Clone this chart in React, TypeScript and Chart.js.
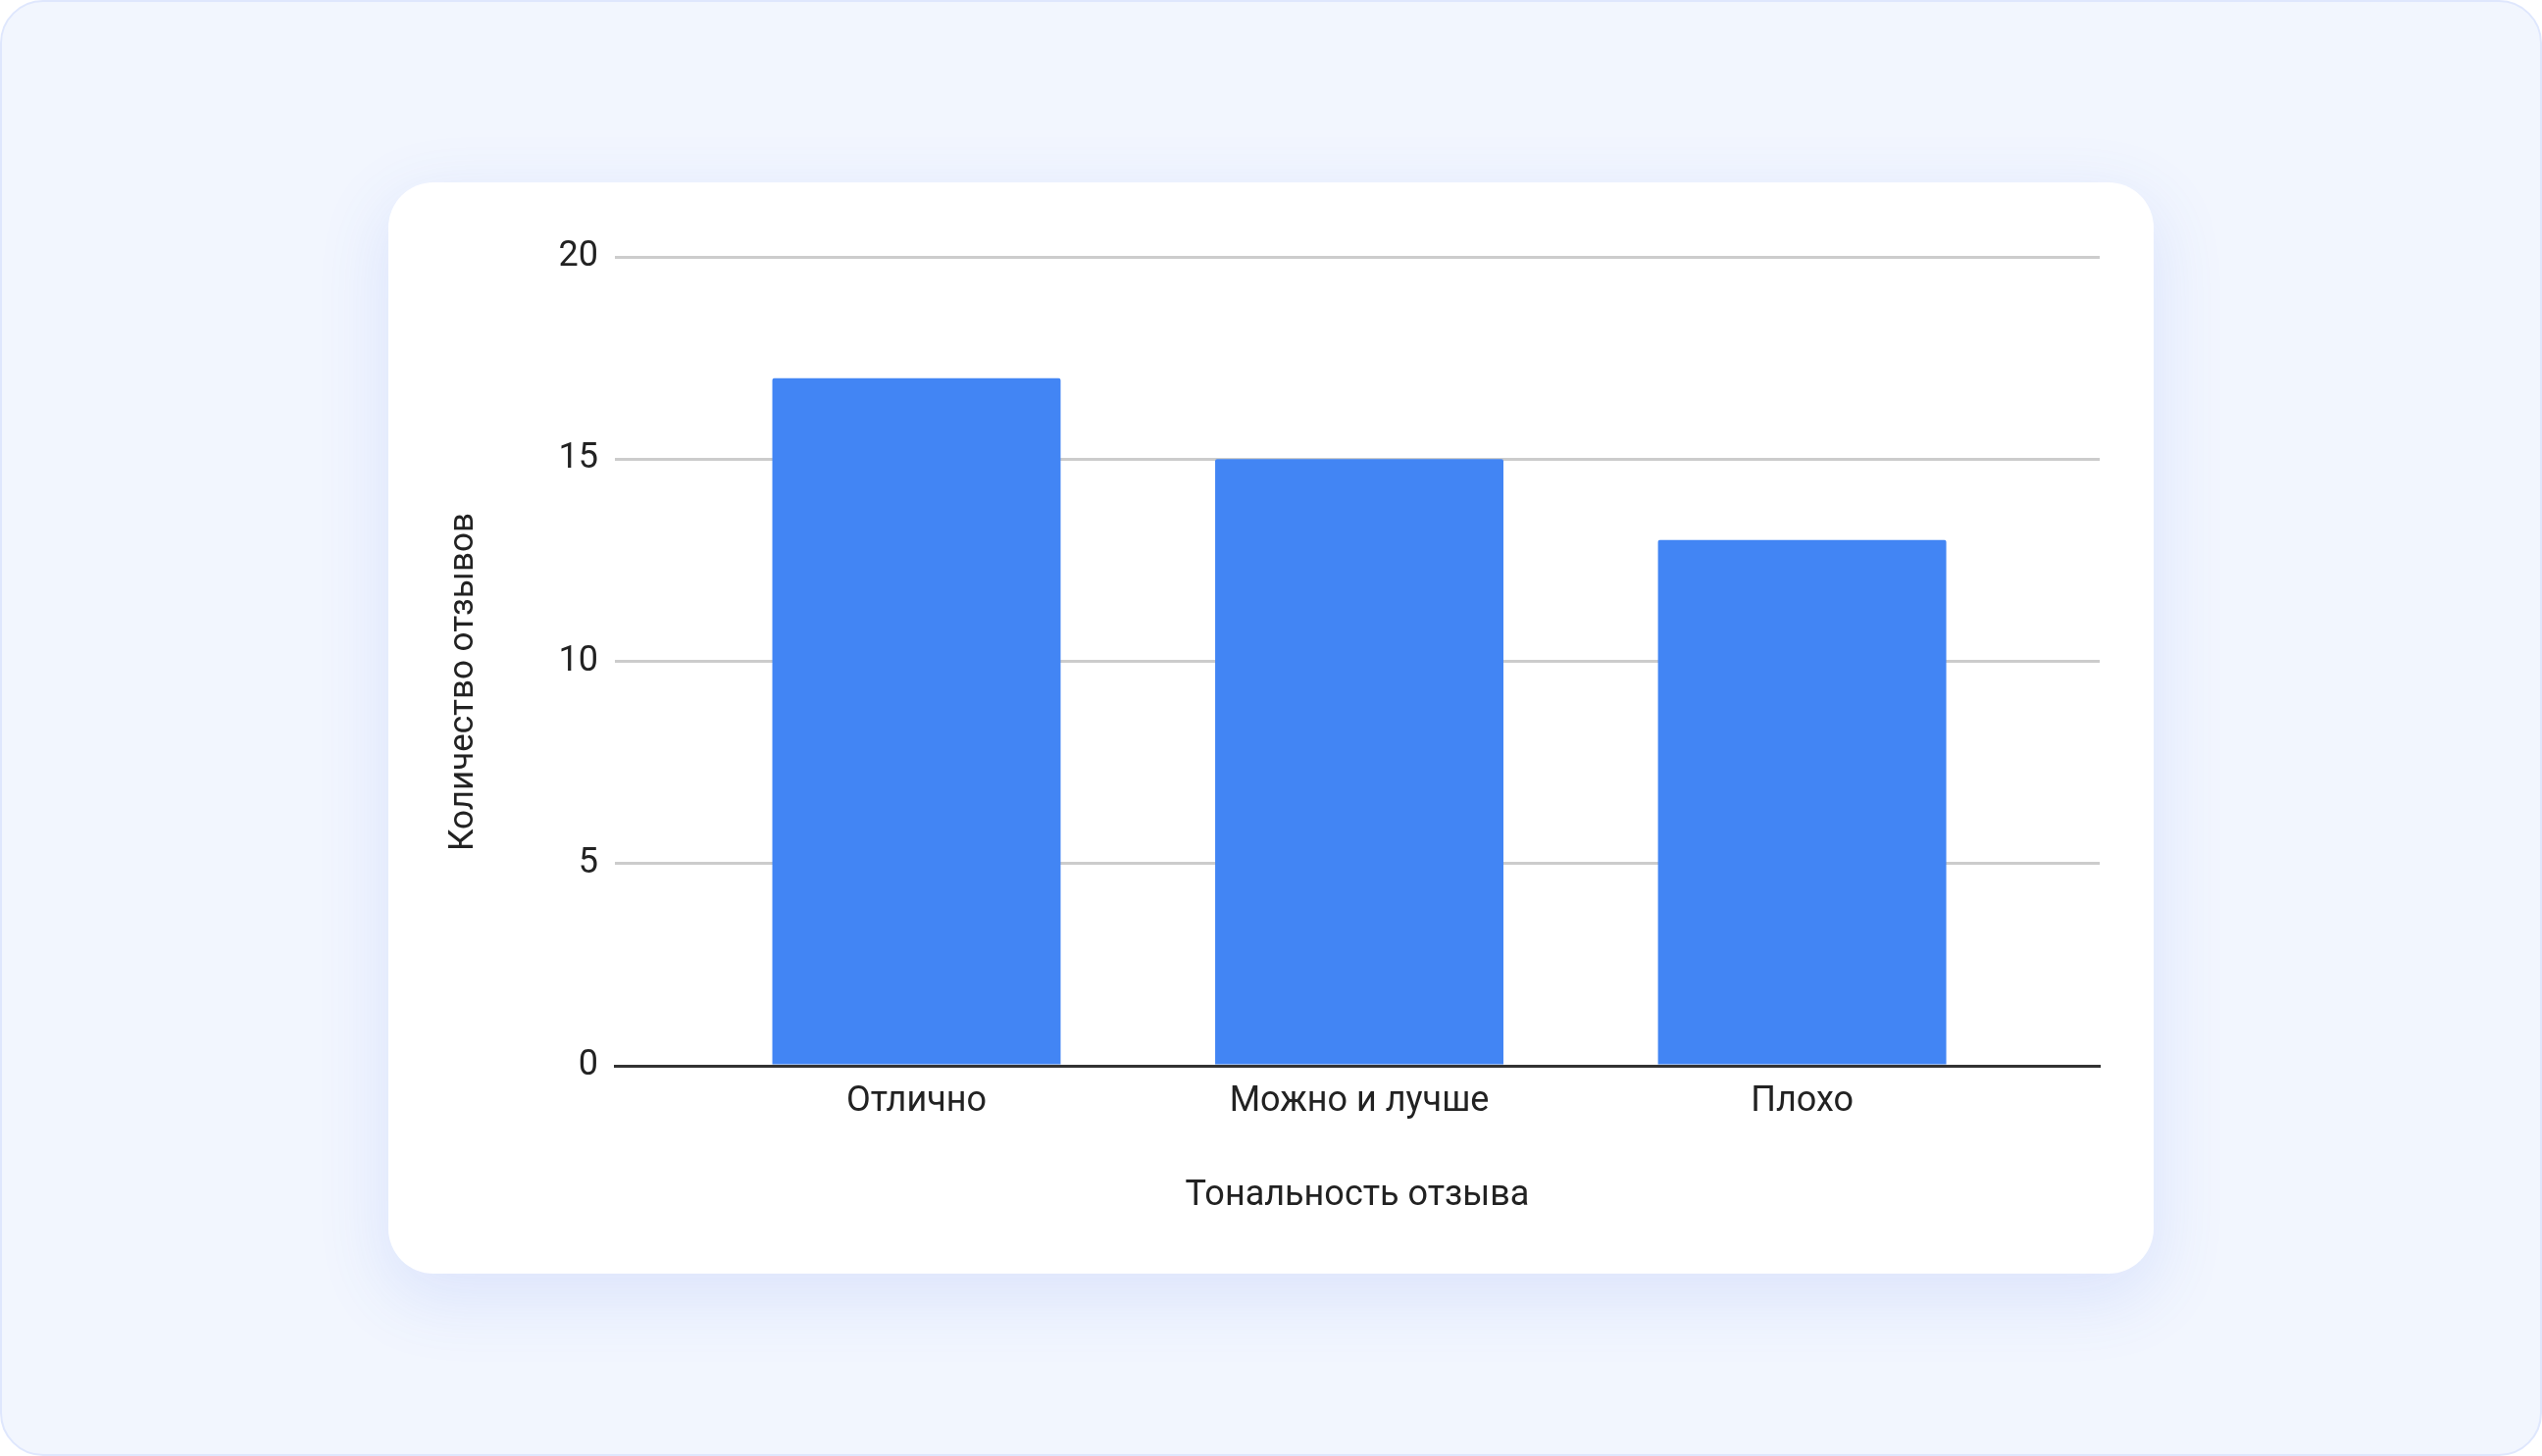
import React, { useEffect, useRef } from "react";
import { Chart, registerables } from "chart.js";

Chart.register(...registerables);

const categories: string[] = ["Отлично", "Можно и лучше", "Плохо"];
const reviewCounts: number[] = [17, 15, 13];
const yTicks: number[] = [0, 5, 10, 15, 20];
const xTitle = "Тональность отзыва";
const yTitle = "Количество отзывов";

const FONT = "Roboto, 'Liberation Sans', Arial, sans-serif";

export default function App() {
  const canvasRef = useRef<HTMLCanvasElement | null>(null);

  useEffect(() => {
    document.body.style.margin = "0";
    document.body.style.overflow = "hidden";
    const canvas = canvasRef.current;
    if (!canvas) return;

    const yTitlePlugin = {
      id: "yTitlePlugin",
      afterDraw(chart: any) {
        const { ctx, chartArea } = chart;
        ctx.save();
        ctx.font = `35px ${FONT}`;
        ctx.fillStyle = "#222222";
        ctx.textAlign = "center";
        ctx.textBaseline = "middle";
        ctx.translate(77, (chartArea.top + chartArea.bottom) / 2 + 21);
        ctx.rotate(-Math.PI / 2);
        ctx.fillText(yTitle, 0, 0);
        ctx.restore();
      },
    };

    const chart = new Chart(canvas, {
      type: "bar",
      data: {
        datasets: [
          {
            data: categories.map((_, i) => ({ x: i, y: reviewCounts[i] })),
            backgroundColor: "#4285F4",
            borderWidth: 0,
            borderRadius: 2,
            borderSkipped: "bottom",
            barPercentage: 0.651,
            categoryPercentage: 1,
          },
        ],
      },
      options: {
        animation: false,
        responsive: true,
        maintainAspectRatio: false,
        devicePixelRatio: 1,
        layout: { padding: { left: 0, right: 55, top: 76, bottom: 0 } },
        plugins: {
          legend: { display: false },
          tooltip: { enabled: false },
          title: { display: false },
        },
        scales: {
          x: {
            type: "linear",
            offset: false,
            min: -0.681,
            max: 2.672,
            z: 1,
            grid: { display: false, drawTicks: false, offset: false },
            border: { display: true, color: "#333333", width: 3 },
            afterBuildTicks: (scale: any) => {
              scale.ticks = categories.map((_, i) => ({ value: i }));
            },
            afterFit: (scale: any) => {
              scale.height = 212;
            },
            ticks: {
              autoSkip: false,
              maxRotation: 0,
              padding: 15,
              color: "#222222",
              font: { family: FONT, size: 36 },
              callback: (v: any) => categories[Math.round(Number(v))] ?? "",
            },
            title: {
              display: true,
              text: xTitle,
              color: "#222222",
              font: { family: FONT, size: 36 },
              padding: { top: 0, bottom: 57 },
            },
          },
          y: {
            type: "linear",
            min: yTicks[0],
            max: yTicks[yTicks.length - 1],
            afterBuildTicks: (scale: any) => {
              scale.ticks = yTicks.map((v) => ({ value: v }));
            },
            afterFit: (scale: any) => {
              scale.width = 231;
            },
            grid: {
              drawTicks: false,
              color: (ctx: any) => (ctx.tick && ctx.tick.value === 0 ? "rgba(0,0,0,0)" : "#cccccc"),
              lineWidth: 3,
            },
            border: { display: false },
            ticks: {
              padding: 17,
              color: "#222222",
              font: { family: FONT, size: 36 },
            },
          },
        },
      },
      plugins: [yTitlePlugin],
    });

    return () => chart.destroy();
  }, []);

  return (
    <div
      style={{
        position: "relative",
        width: 2592,
        height: 1485,
        boxSizing: "border-box",
        border: "2px solid #DFE7FD",
        borderRadius: 44,
        background: "#F2F6FE",
        overflow: "hidden",
      }}
    >
      <div
        style={{
          position: "absolute",
          left: 394,
          top: 184,
          width: 1800,
          height: 1113,
          background: "#ffffff",
          borderRadius: 46,
          boxShadow: "0 22px 70px 6px rgba(66,110,240,0.12)",
        }}
      >
        <canvas ref={canvasRef} style={{ display: "block", width: 1800, height: 1113 }} />
      </div>
    </div>
  );
}
